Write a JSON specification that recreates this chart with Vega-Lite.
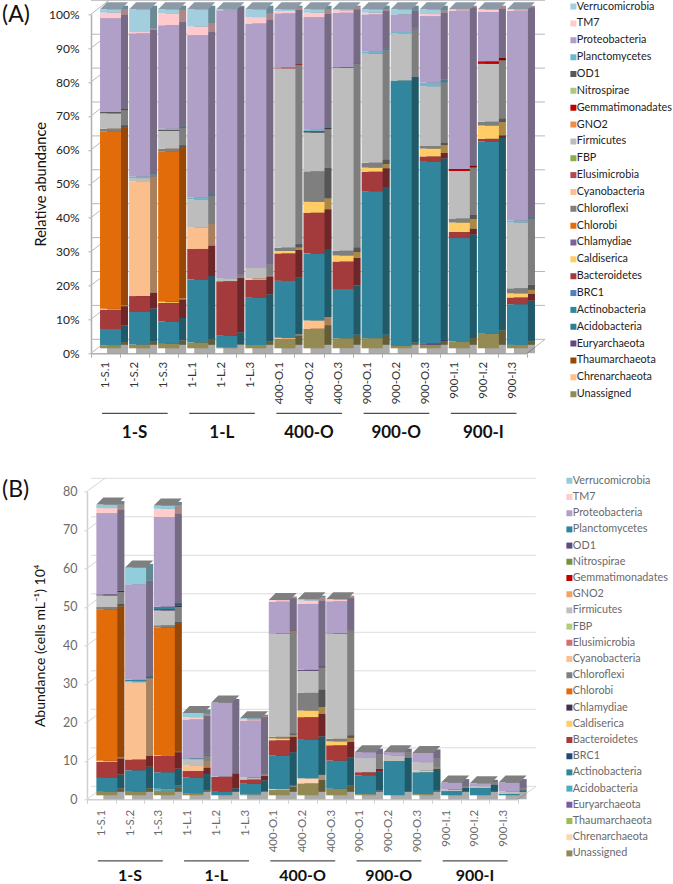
{
"$schema":"https://vega.github.io/schema/vega-lite/v6.json",
"padding":{"left":2,"top":-1.7,"right":6,"bottom":10},
"bounds":"flush",
"spacing":138,
"config":{"view":{"stroke":null},"font":"Lato","axis":{"labelFont":"Lato","titleFont":"Lato","titleFontWeight":"normal","labelOverlap":false,"labelBound":false,"labelSeparation":0},"legend":{"labelFont":"Lato"}},
"resolve":{"scale":{"color":"independent","x":"independent","y":"independent"},"legend":{"color":"independent"}},
"datasets":{
"groupsA":[{"group":"1-S","first":"1-S.1","mid":"1-S.2","last":"1-S.3"},{"group":"1-L","first":"1-L.1","mid":"1-L.2","last":"1-L.3"},{"group":"400-O","first":"400-O.1","mid":"400-O.2","last":"400-O.3"},{"group":"900-O","first":"900-O.1","mid":"900-O.2","last":"900-O.3"},{"group":"900-I","first":"900-I.1","mid":"900-I.2","last":"900-I.3"}],
"a":[
{"s":"1-S.1","t":"Unassigned","v":0.8,"r":1},{"s":"1-S.1","t":"Actinobacteria","v":4.9,"r":6},{"s":"1-S.1","t":"Bacteroidetes","v":5.7,"r":8},{"s":"1-S.1","t":"Caldiserica","v":0.3,"r":9},{"s":"1-S.1","t":"Chlorobi","v":52.3,"r":11},{"s":"1-S.1","t":"Chloroflexi","v":0.8,"r":12},{"s":"1-S.1","t":"Firmicutes","v":4.5,"r":16},{"s":"1-S.1","t":"OD1","v":0.4,"r":20},{"s":"1-S.1","t":"Proteobacteria","v":27.7,"r":22},{"s":"1-S.1","t":"TM7","v":1.6,"r":23},{"s":"1-S.1","t":"Verrucomicrobia","v":1,"r":24},
{"s":"1-S.2","t":"Unassigned","v":1.1,"r":1},{"s":"1-S.2","t":"Actinobacteria","v":9.6,"r":6},{"s":"1-S.2","t":"Bacteroidetes","v":4.7,"r":8},{"s":"1-S.2","t":"Cyanobacteria","v":33.9,"r":13},{"s":"1-S.2","t":"Firmicutes","v":0.9,"r":16},{"s":"1-S.2","t":"Planctomycetes","v":0.5,"r":21},{"s":"1-S.2","t":"Proteobacteria","v":42.2,"r":22},{"s":"1-S.2","t":"TM7","v":0.4,"r":23},{"s":"1-S.2","t":"Verrucomicrobia","v":6.7,"r":24},
{"s":"1-S.3","t":"Unassigned","v":1.3,"r":1},{"s":"1-S.3","t":"Actinobacteria","v":6.6,"r":6},{"s":"1-S.3","t":"Bacteroidetes","v":5.5,"r":8},{"s":"1-S.3","t":"Caldiserica","v":0.3,"r":9},{"s":"1-S.3","t":"Chlorobi","v":44.4,"r":11},{"s":"1-S.3","t":"Chloroflexi","v":0.8,"r":12},{"s":"1-S.3","t":"Firmicutes","v":5.2,"r":16},{"s":"1-S.3","t":"OD1","v":0.3,"r":20},{"s":"1-S.3","t":"Planctomycetes","v":0.4,"r":21},{"s":"1-S.3","t":"Proteobacteria","v":30.5,"r":22},{"s":"1-S.3","t":"TM7","v":3.5,"r":23},{"s":"1-S.3","t":"Verrucomicrobia","v":1.2,"r":24},
{"s":"1-L.1","t":"Unassigned","v":1.7,"r":1},{"s":"1-L.1","t":"Actinobacteria","v":18.6,"r":6},{"s":"1-L.1","t":"Bacteroidetes","v":9,"r":8},{"s":"1-L.1","t":"Cyanobacteria","v":6.3,"r":13},{"s":"1-L.1","t":"Firmicutes","v":8.3,"r":16},{"s":"1-L.1","t":"Planctomycetes","v":0.6,"r":21},{"s":"1-L.1","t":"Proteobacteria","v":47.9,"r":22},{"s":"1-L.1","t":"TM7","v":2.5,"r":23},{"s":"1-L.1","t":"Verrucomicrobia","v":5.1,"r":24},
{"s":"1-L.2","t":"Unassigned","v":0.2,"r":1},{"s":"1-L.2","t":"Actinobacteria","v":3.5,"r":6},{"s":"1-L.2","t":"Bacteroidetes","v":16.1,"r":8},{"s":"1-L.2","t":"Firmicutes","v":0.9,"r":16},{"s":"1-L.2","t":"Proteobacteria","v":79,"r":22},{"s":"1-L.2","t":"Verrucomicrobia","v":0.3,"r":24},
{"s":"1-L.3","t":"Unassigned","v":1,"r":1},{"s":"1-L.3","t":"Actinobacteria","v":13.9,"r":6},{"s":"1-L.3","t":"Bacteroidetes","v":5.3,"r":8},{"s":"1-L.3","t":"Cyanobacteria","v":0.4,"r":13},{"s":"1-L.3","t":"Firmicutes","v":3.1,"r":16},{"s":"1-L.3","t":"Proteobacteria","v":72.1,"r":22},{"s":"1-L.3","t":"TM7","v":1.9,"r":23},{"s":"1-L.3","t":"Verrucomicrobia","v":2.3,"r":24},
{"s":"400-O.1","t":"Unassigned","v":2.8,"r":1},{"s":"400-O.1","t":"Chrenarchaeota","v":0.3,"r":2},{"s":"400-O.1","t":"Actinobacteria","v":16.8,"r":6},{"s":"400-O.1","t":"Bacteroidetes","v":8.1,"r":8},{"s":"400-O.1","t":"Caldiserica","v":0.7,"r":9},{"s":"400-O.1","t":"Chloroflexi","v":1,"r":12},{"s":"400-O.1","t":"Firmicutes","v":52.9,"r":16},{"s":"400-O.1","t":"Gemmatimonadates","v":0.2,"r":18},{"s":"400-O.1","t":"Proteobacteria","v":16,"r":22},{"s":"400-O.1","t":"TM7","v":0.7,"r":23},{"s":"400-O.1","t":"Verrucomicrobia","v":0.5,"r":24},
{"s":"400-O.2","t":"Unassigned","v":5.8,"r":1},{"s":"400-O.2","t":"Chrenarchaeota","v":2.4,"r":2},{"s":"400-O.2","t":"Actinobacteria","v":19.8,"r":6},{"s":"400-O.2","t":"Bacteroidetes","v":12,"r":8},{"s":"400-O.2","t":"Caldiserica","v":3.2,"r":9},{"s":"400-O.2","t":"Chloroflexi","v":9,"r":12},{"s":"400-O.2","t":"Firmicutes","v":11.4,"r":16},{"s":"400-O.2","t":"OD1","v":0.5,"r":20},{"s":"400-O.2","t":"Planctomycetes","v":0.4,"r":21},{"s":"400-O.2","t":"Proteobacteria","v":33.2,"r":22},{"s":"400-O.2","t":"TM7","v":1.3,"r":23},{"s":"400-O.2","t":"Verrucomicrobia","v":1,"r":24},
{"s":"400-O.3","t":"Unassigned","v":3,"r":1},{"s":"400-O.3","t":"Actinobacteria","v":14.5,"r":6},{"s":"400-O.3","t":"Bacteroidetes","v":8.1,"r":8},{"s":"400-O.3","t":"Caldiserica","v":1.8,"r":9},{"s":"400-O.3","t":"Chloroflexi","v":1.4,"r":12},{"s":"400-O.3","t":"Firmicutes","v":54,"r":16},{"s":"400-O.3","t":"Gemmatimonadates","v":0.2,"r":18},{"s":"400-O.3","t":"Proteobacteria","v":16,"r":22},{"s":"400-O.3","t":"TM7","v":0.7,"r":23},{"s":"400-O.3","t":"Verrucomicrobia","v":0.3,"r":24},
{"s":"900-O.1","t":"Unassigned","v":3,"r":1},{"s":"900-O.1","t":"Actinobacteria","v":43.3,"r":6},{"s":"900-O.1","t":"Bacteroidetes","v":5.8,"r":8},{"s":"900-O.1","t":"Caldiserica","v":1.2,"r":9},{"s":"900-O.1","t":"Chloroflexi","v":1.4,"r":12},{"s":"900-O.1","t":"Firmicutes","v":32.2,"r":16},{"s":"900-O.1","t":"Planctomycetes","v":0.6,"r":21},{"s":"900-O.1","t":"Proteobacteria","v":11,"r":22},{"s":"900-O.1","t":"TM7","v":0.5,"r":23},{"s":"900-O.1","t":"Verrucomicrobia","v":1,"r":24},
{"s":"900-O.2","t":"Unassigned","v":0.7,"r":1},{"s":"900-O.2","t":"Actinobacteria","v":78.3,"r":6},{"s":"900-O.2","t":"Firmicutes","v":13.9,"r":16},{"s":"900-O.2","t":"Planctomycetes","v":0.4,"r":21},{"s":"900-O.2","t":"Proteobacteria","v":5.2,"r":22},{"s":"900-O.2","t":"Verrucomicrobia","v":1.5,"r":24},
{"s":"900-O.3","t":"Unassigned","v":1,"r":1},{"s":"900-O.3","t":"Euryarchaeota","v":0.5,"r":4},{"s":"900-O.3","t":"Actinobacteria","v":53.5,"r":6},{"s":"900-O.3","t":"Bacteroidetes","v":1.6,"r":8},{"s":"900-O.3","t":"Caldiserica","v":2.3,"r":9},{"s":"900-O.3","t":"Chloroflexi","v":0.8,"r":12},{"s":"900-O.3","t":"Firmicutes","v":17.6,"r":16},{"s":"900-O.3","t":"Planctomycetes","v":1,"r":21},{"s":"900-O.3","t":"Proteobacteria","v":19.7,"r":22},{"s":"900-O.3","t":"TM7","v":0.6,"r":23},{"s":"900-O.3","t":"Verrucomicrobia","v":1.4,"r":24},
{"s":"900-I.1","t":"Unassigned","v":2,"r":1},{"s":"900-I.1","t":"Actinobacteria","v":30.5,"r":6},{"s":"900-I.1","t":"Bacteroidetes","v":1.8,"r":8},{"s":"900-I.1","t":"Caldiserica","v":2.8,"r":9},{"s":"900-I.1","t":"Chloroflexi","v":1.2,"r":12},{"s":"900-I.1","t":"Firmicutes","v":14,"r":16},{"s":"900-I.1","t":"Gemmatimonadates","v":0.6,"r":18},{"s":"900-I.1","t":"Proteobacteria","v":46.7,"r":22},{"s":"900-I.1","t":"TM7","v":0.4,"r":23},
{"s":"900-I.2","t":"Unassigned","v":4.3,"r":1},{"s":"900-I.2","t":"Actinobacteria","v":56.7,"r":6},{"s":"900-I.2","t":"Bacteroidetes","v":0.8,"r":8},{"s":"900-I.2","t":"Caldiserica","v":3.9,"r":9},{"s":"900-I.2","t":"Chloroflexi","v":1.1,"r":12},{"s":"900-I.2","t":"Firmicutes","v":17.1,"r":16},{"s":"900-I.2","t":"Gemmatimonadates","v":0.8,"r":18},{"s":"900-I.2","t":"Proteobacteria","v":14.5,"r":22},{"s":"900-I.2","t":"TM7","v":0.8,"r":23},
{"s":"900-I.3","t":"Unassigned","v":1,"r":1},{"s":"900-I.3","t":"Actinobacteria","v":12,"r":6},{"s":"900-I.3","t":"Bacteroidetes","v":2,"r":8},{"s":"900-I.3","t":"Caldiserica","v":1.2,"r":9},{"s":"900-I.3","t":"Chloroflexi","v":1.5,"r":12},{"s":"900-I.3","t":"Firmicutes","v":19.4,"r":16},{"s":"900-I.3","t":"Planctomycetes","v":0.6,"r":21},{"s":"900-I.3","t":"Proteobacteria","v":61.9,"r":22},{"s":"900-I.3","t":"TM7","v":0.4,"r":23}
],
"b":[
{"s":"1-S.1","t":"Unassigned","v":0.9,"r":1},{"s":"1-S.1","t":"Actinobacteria","v":3.6,"r":6},{"s":"1-S.1","t":"Bacteroidetes","v":4.2,"r":8},{"s":"1-S.1","t":"Caldiserica","v":0.3,"r":9},{"s":"1-S.1","t":"Chlorobi","v":39.2,"r":11},{"s":"1-S.1","t":"Chloroflexi","v":0.7,"r":12},{"s":"1-S.1","t":"Firmicutes","v":3,"r":16},{"s":"1-S.1","t":"OD1","v":0.3,"r":20},{"s":"1-S.1","t":"Proteobacteria","v":21.1,"r":22},{"s":"1-S.1","t":"TM7","v":1.3,"r":23},{"s":"1-S.1","t":"Verrucomicrobia","v":0.9,"r":24},
{"s":"1-S.2","t":"Unassigned","v":0.9,"r":1},{"s":"1-S.2","t":"Actinobacteria","v":5.6,"r":6},{"s":"1-S.2","t":"Bacteroidetes","v":2.8,"r":8},{"s":"1-S.2","t":"Cyanobacteria","v":19.9,"r":13},{"s":"1-S.2","t":"Firmicutes","v":0.4,"r":16},{"s":"1-S.2","t":"Planctomycetes","v":0.4,"r":21},{"s":"1-S.2","t":"Proteobacteria","v":24.8,"r":22},{"s":"1-S.2","t":"Verrucomicrobia","v":4.4,"r":24},
{"s":"1-S.3","t":"Unassigned","v":1.2,"r":1},{"s":"1-S.3","t":"Acidobacteria","v":0.5,"r":5},{"s":"1-S.3","t":"Actinobacteria","v":4.3,"r":6},{"s":"1-S.3","t":"Bacteroidetes","v":4.3,"r":8},{"s":"1-S.3","t":"Caldiserica","v":0.1,"r":9},{"s":"1-S.3","t":"Chlorobi","v":33.2,"r":11},{"s":"1-S.3","t":"Chloroflexi","v":0.6,"r":12},{"s":"1-S.3","t":"Firmicutes","v":3.8,"r":16},{"s":"1-S.3","t":"OD1","v":0.4,"r":20},{"s":"1-S.3","t":"Planctomycetes","v":0.6,"r":21},{"s":"1-S.3","t":"Proteobacteria","v":23.3,"r":22},{"s":"1-S.3","t":"TM7","v":2.1,"r":23},{"s":"1-S.3","t":"Verrucomicrobia","v":0.9,"r":24},
{"s":"1-L.1","t":"Unassigned","v":0.4,"r":1},{"s":"1-L.1","t":"Actinobacteria","v":4.2,"r":6},{"s":"1-L.1","t":"Bacteroidetes","v":1.7,"r":8},{"s":"1-L.1","t":"Cyanobacteria","v":1.5,"r":13},{"s":"1-L.1","t":"Firmicutes","v":1.6,"r":16},{"s":"1-L.1","t":"Planctomycetes","v":0.2,"r":21},{"s":"1-L.1","t":"Proteobacteria","v":10.1,"r":22},{"s":"1-L.1","t":"TM7","v":0.6,"r":23},{"s":"1-L.1","t":"Verrucomicrobia","v":1.1,"r":24},
{"s":"1-L.2","t":"Actinobacteria","v":0.9,"r":6},{"s":"1-L.2","t":"Bacteroidetes","v":3.9,"r":8},{"s":"1-L.2","t":"Firmicutes","v":0.1,"r":16},{"s":"1-L.2","t":"Proteobacteria","v":19.2,"r":22},
{"s":"1-L.3","t":"Unassigned","v":0.2,"r":1},{"s":"1-L.3","t":"Actinobacteria","v":2.8,"r":6},{"s":"1-L.3","t":"Bacteroidetes","v":1.1,"r":8},{"s":"1-L.3","t":"Cyanobacteria","v":0.1,"r":13},{"s":"1-L.3","t":"Firmicutes","v":0.4,"r":16},{"s":"1-L.3","t":"Proteobacteria","v":14.8,"r":22},{"s":"1-L.3","t":"TM7","v":0.3,"r":23},{"s":"1-L.3","t":"Verrucomicrobia","v":0.3,"r":24},
{"s":"400-O.1","t":"Unassigned","v":1.4,"r":1},{"s":"400-O.1","t":"Chrenarchaeota","v":0.2,"r":2},{"s":"400-O.1","t":"Actinobacteria","v":8.7,"r":6},{"s":"400-O.1","t":"Bacteroidetes","v":4,"r":8},{"s":"400-O.1","t":"Caldiserica","v":0.5,"r":9},{"s":"400-O.1","t":"Chloroflexi","v":0.4,"r":12},{"s":"400-O.1","t":"Firmicutes","v":26.7,"r":16},{"s":"400-O.1","t":"Gemmatimonadates","v":0.1,"r":18},{"s":"400-O.1","t":"Proteobacteria","v":8.3,"r":22},{"s":"400-O.1","t":"TM7","v":0.4,"r":23},
{"s":"400-O.2","t":"Unassigned","v":3.1,"r":1},{"s":"400-O.2","t":"Chrenarchaeota","v":1.3,"r":2},{"s":"400-O.2","t":"Actinobacteria","v":10,"r":6},{"s":"400-O.2","t":"Bacteroidetes","v":5.9,"r":8},{"s":"400-O.2","t":"Caldiserica","v":1.7,"r":9},{"s":"400-O.2","t":"Chloroflexi","v":4.6,"r":12},{"s":"400-O.2","t":"Firmicutes","v":5.7,"r":16},{"s":"400-O.2","t":"OD1","v":0.3,"r":20},{"s":"400-O.2","t":"Proteobacteria","v":17.1,"r":22},{"s":"400-O.2","t":"TM7","v":0.9,"r":23},{"s":"400-O.2","t":"Verrucomicrobia","v":0.3,"r":24},
{"s":"400-O.3","t":"Unassigned","v":1.7,"r":1},{"s":"400-O.3","t":"Actinobacteria","v":7.3,"r":6},{"s":"400-O.3","t":"Bacteroidetes","v":4,"r":8},{"s":"400-O.3","t":"Caldiserica","v":1,"r":9},{"s":"400-O.3","t":"Chloroflexi","v":0.7,"r":12},{"s":"400-O.3","t":"Firmicutes","v":27.3,"r":16},{"s":"400-O.3","t":"Gemmatimonadates","v":0.1,"r":18},{"s":"400-O.3","t":"Proteobacteria","v":8.3,"r":22},{"s":"400-O.3","t":"TM7","v":0.5,"r":23},
{"s":"900-O.1","t":"Unassigned","v":0.3,"r":1},{"s":"900-O.1","t":"Actinobacteria","v":4.9,"r":6},{"s":"900-O.1","t":"Bacteroidetes","v":0.8,"r":8},{"s":"900-O.1","t":"Firmicutes","v":3.7,"r":16},{"s":"900-O.1","t":"Proteobacteria","v":1.5,"r":22},
{"s":"900-O.2","t":"Actinobacteria","v":8.9,"r":6},{"s":"900-O.2","t":"Firmicutes","v":1.4,"r":16},{"s":"900-O.2","t":"Proteobacteria","v":0.9,"r":22},
{"s":"900-O.3","t":"Unassigned","v":0.3,"r":1},{"s":"900-O.3","t":"Actinobacteria","v":5.7,"r":6},{"s":"900-O.3","t":"Cyanobacteria","v":0.4,"r":13},{"s":"900-O.3","t":"Firmicutes","v":2.2,"r":16},{"s":"900-O.3","t":"Proteobacteria","v":2.4,"r":22},
{"s":"900-I.1","t":"Actinobacteria","v":1.1,"r":6},{"s":"900-I.1","t":"Firmicutes","v":0.4,"r":16},{"s":"900-I.1","t":"Proteobacteria","v":1.8,"r":22},
{"s":"900-I.2","t":"Actinobacteria","v":1.9,"r":6},{"s":"900-I.2","t":"Firmicutes","v":0.5,"r":16},{"s":"900-I.2","t":"Proteobacteria","v":0.7,"r":22},
{"s":"900-I.3","t":"Actinobacteria","v":0.4,"r":6},{"s":"900-I.3","t":"Firmicutes","v":0.6,"r":16},{"s":"900-I.3","t":"Proteobacteria","v":2.3,"r":22}
],
"ticksA":[{"tick":0},{"tick":10},{"tick":20},{"tick":30},{"tick":40},{"tick":50},{"tick":60},{"tick":70},{"tick":80},{"tick":90},{"tick":100}],
"ticksB":[{"tick":0},{"tick":10},{"tick":20},{"tick":30},{"tick":40},{"tick":50},{"tick":60},{"tick":70},{"tick":80}]
},
"vconcat":[
{"width":436,"height":339,
"title":{"text":"(A)","anchor":"start","frame":"group","dx":-89,"dy":33,"fontSize":23,"font":"Lato","fontWeight":"normal","color":"#111"},
"layer":[
{"data":{"name":"ticksA"},"mark":{"type":"rule","color":"#b8b8b8","strokeWidth":1,"xOffset":18,"x2Offset":18,"yOffset":-14},"encoding":{"y":{"field":"tick","type":"quantitative","title":"Relative abundance","scale":{"domain":[0,100],"nice":false},"axis":{"values":[0,10,20,30,40,50,60,70,80,90,100],"tickCount":11,"labelOverlap":false,"labelExpr":"datum.value + '%'","labelFontSize":12,"labelColor":"#222","labelPadding":9,"tickSize":3,"tickColor":"#b0b0b0","domainColor":"#b0b0b0","domainWidth":1.5,"grid":false,"titleFontSize":14.6,"titleColor":"#111","titleX":-43}}}},
{"data":{"name":"ticksA"},"mark":{"type":"point","shape":"M0,0L18,-14","size":4,"filled":false,"stroke":"#b8b8b8","strokeWidth":1,"opacity":1,"xOffset":-14.6},"encoding":{"x":{"datum":"1-S.1","type":"nominal"},"y":{"field":"tick","type":"quantitative"}}},
{"data":{"values":[{"tick":0}]},"mark":{"type":"point","shape":"M0,0L18,-14","size":4,"filled":false,"stroke":"#b8b8b8","strokeWidth":1,"opacity":1,"xOffset":14.6},"encoding":{"x":{"datum":"900-I.3","type":"nominal"},"y":{"field":"tick","type":"quantitative"}}},
{"data":{"name":"a"},"mark":{"type":"bar","width":21,"xOffset":12,"yOffset":-8.5,"y2Offset":-8.5},"encoding":{"x":{"field":"s","type":"nominal"},"y":{"field":"v","type":"quantitative","stack":"zero"},"order":{"field":"r","type":"quantitative"},"color":{"field":"t","type":"nominal"}}},
{"data":{"name":"a"},"transform":[{"aggregate":[{"op":"sum","field":"v","as":"total"}],"groupby":["s"]}],"mark":{"type":"bar","width":21,"xOffset":12,"yOffset":-8.5,"y2Offset":-8.5,"color":"#000","opacity":0.33},"encoding":{"x":{"field":"s","type":"nominal"},"y":{"field":"total","type":"quantitative","stack":null}}},
{"data":{"name":"a"},"mark":{"type":"bar","width":21,"xOffset":5,"yOffset":-5,"y2Offset":-5},"encoding":{
"x":{"field":"s","type":"nominal","sort":null,"title":null,"scale":{"type":"band","paddingInner":0,"paddingOuter":0,"domain":["1-S.1","1-S.2","1-S.3","1-L.1","1-L.2","1-L.3","400-O.1","400-O.2","400-O.3","900-O.1","900-O.2","900-O.3","900-I.1","900-I.2","900-I.3"]},"axis":{"labelAngle":-90,"labelAlign":"right","labelBaseline":"middle","labelFontSize":11.5,"labelColor":"#333","labelPadding":4,"labelOverlap":false,"tickBand":"extent","tickSize":4,"tickColor":"#b0b0b0","domainColor":"#b0b0b0","domainWidth":1.5}},
"y":{"field":"v","type":"quantitative","stack":"zero"},
"order":{"field":"r","type":"quantitative"},
"color":{"field":"t","type":"nominal","scale":{"domain":["Verrucomicrobia","TM7","Proteobacteria","Planctomycetes","OD1","Nitrospirae","Gemmatimonadates","GNO2","Firmicutes","FBP","Elusimicrobia","Cyanobacteria","Chloroflexi","Chlorobi","Chlamydiae","Caldiserica","Bacteroidetes","BRC1","Actinobacteria","Acidobacteria","Euryarchaeota","Thaumarchaeota","Chrenarchaeota","Unassigned"],"range":["#A2CEDD","#FFC9CE","#B09FC6","#6FB7CC","#595959","#AFC97A","#C00000","#EE8F45","#BDBDBD","#8CAE48","#B24B4B","#FBBF8D","#7F7F7F","#E36C0A","#7F5FA0","#FFCC66","#A33B3D","#4F81BD","#31859C","#2E7D95","#604A7B","#974806","#FFC08A","#948A54"]},
"legend":{"title":null,"orient":"none","legendX":477,"legendY":-15.7,"symbolType":"square","symbolSize":36,"symbolStrokeWidth":0,"labelFontSize":10.8,"labelColor":"#222","labelOffset":-2,"rowPadding":0.85,"clipHeight":16,"labelLimit":120,"values":["Verrucomicrobia","TM7","Proteobacteria","Planctomycetes","OD1","Nitrospirae","Gemmatimonadates","GNO2","Firmicutes","FBP","Elusimicrobia","Cyanobacteria","Chloroflexi","Chlorobi","Chlamydiae","Caldiserica","Bacteroidetes","BRC1","Actinobacteria","Acidobacteria","Euryarchaeota","Thaumarchaeota","Chrenarchaeota","Unassigned"]}}
}},
{"data":{"name":"a"},"transform":[{"aggregate":[{"op":"sum","field":"v","as":"total"}],"groupby":["s"]}],"mark":{"type":"point","shape":"M-10.5,0L10.5,0L17.5,-7L-3.5,-7Z","size":4,"filled":true,"fill":"#8c9aa8","opacity":1,"xOffset":5,"yOffset":-5},"encoding":{"x":{"field":"s","type":"nominal"},"y":{"field":"total","type":"quantitative"}}},
{"data":{"name":"groupsA"},"mark":{"type":"rule","color":"#222","strokeWidth":1,"xOffset":-3.5,"x2Offset":4},"encoding":{"x":{"field":"first","type":"nominal"},"x2":{"field":"last"},"y":{"datum":-17.7}}},
{"data":{"name":"groupsA"},"mark":{"type":"text","font":"Lato","fontSize":17,"fontWeight":"bold","color":"#111"},"encoding":{"x":{"field":"mid","type":"nominal"},"y":{"datum":-23.6},"text":{"field":"group"}}}
]},
{"width":431,"height":308,
"title":{"text":"(B)","anchor":"start","frame":"group","dx":-89,"dy":33,"fontSize":23,"font":"Lato","fontWeight":"normal","color":"#111"},
"layer":[
{"data":{"name":"ticksB"},"mark":{"type":"rule","color":"#dcdcdc","strokeWidth":1,"xOffset":14,"x2Offset":14,"yOffset":-13},"encoding":{"y":{"field":"tick","type":"quantitative","title":"Abundance (cells mL⁻¹) 10⁴","scale":{"domain":[0,80],"nice":false},"axis":{"offset":4,"values":[0,10,20,30,40,50,60,70,80],"tickCount":9,"labelOverlap":false,"labelFontSize":12.5,"labelColor":"#6a6a6a","labelPadding":7,"tickSize":3,"tickColor":"#d0d0d0","domainColor":"#d0d0d0","domainWidth":1.5,"grid":false,"titleFontSize":14,"titleColor":"#111","titleX":-40}}}},
{"data":{"name":"ticksB"},"mark":{"type":"point","shape":"M0,0L18,-13","size":4,"filled":false,"stroke":"#d5d5d5","strokeWidth":1,"opacity":1,"xOffset":-14.4},"encoding":{"x":{"datum":"1-S.1","type":"nominal"},"y":{"field":"tick","type":"quantitative"}}},
{"data":{"values":[{"tick":0}]},"mark":{"type":"point","shape":"M0,0L18,-13","size":4,"filled":false,"stroke":"#d5d5d5","strokeWidth":1,"opacity":1,"xOffset":14.4},"encoding":{"x":{"datum":"900-I.3","type":"nominal"},"y":{"field":"tick","type":"quantitative"}}},
{"data":{"name":"b"},"mark":{"type":"bar","width":21,"xOffset":12.5,"yOffset":-7.5,"y2Offset":-7.5},"encoding":{"x":{"field":"s","type":"nominal"},"y":{"field":"v","type":"quantitative","stack":"zero"},"order":{"field":"r","type":"quantitative"},"color":{"field":"t","type":"nominal"}}},
{"data":{"name":"b"},"transform":[{"aggregate":[{"op":"sum","field":"v","as":"total"}],"groupby":["s"]}],"mark":{"type":"bar","width":21,"xOffset":12.5,"yOffset":-7.5,"y2Offset":-7.5,"color":"#000","opacity":0.33},"encoding":{"x":{"field":"s","type":"nominal"},"y":{"field":"total","type":"quantitative","stack":null}}},
{"data":{"name":"b"},"mark":{"type":"bar","width":21,"xOffset":5.5,"yOffset":-4,"y2Offset":-4},"encoding":{
"x":{"field":"s","type":"nominal","sort":null,"title":null,"scale":{"type":"band","range":[-4,427],"paddingInner":0,"paddingOuter":0,"domain":["1-S.1","1-S.2","1-S.3","1-L.1","1-L.2","1-L.3","400-O.1","400-O.2","400-O.3","900-O.1","900-O.2","900-O.3","900-I.1","900-I.2","900-I.3"]},"axis":{"labelAngle":-90,"labelAlign":"right","labelBaseline":"middle","labelFontSize":11.5,"labelColor":"#6a6a6a","labelPadding":6,"labelOverlap":false,"tickBand":"extent","tickSize":4,"tickColor":"#d0d0d0","domainColor":"#d0d0d0","domainWidth":1.5}},
"y":{"field":"v","type":"quantitative","stack":"zero"},
"order":{"field":"r","type":"quantitative"},
"color":{"field":"t","type":"nominal","scale":{"domain":["Verrucomicrobia","TM7","Proteobacteria","Planctomycetes","OD1","Nitrospirae","Gemmatimonadates","GNO2","Firmicutes","FBP","Elusimicrobia","Cyanobacteria","Chloroflexi","Chlorobi","Chlamydiae","Caldiserica","Bacteroidetes","BRC1","Actinobacteria","Acidobacteria","Euryarchaeota","Thaumarchaeota","Chrenarchaeota","Unassigned"],"range":["#92CDDC","#FFCCCC","#B1A0C7","#31859C","#604A7B","#76933C","#C00000","#F4A460","#BFBFBF","#B1CF7A","#D07070","#FAC090","#7F7F7F","#E26B0A","#403151","#FFCC66","#A83A3A","#1F497D","#31859C","#4BACC6","#7B5DA5","#9BBB59","#FCD5B4","#938953"]},
"legend":{"title":null,"orient":"none","legendX":473,"legendY":-18,"symbolType":"square","symbolSize":36,"symbolStrokeWidth":0,"labelFontSize":10.8,"labelColor":"#6a6a6a","labelOffset":-2,"rowPadding":1.2,"clipHeight":15,"labelLimit":120,"values":["Verrucomicrobia","TM7","Proteobacteria","Planctomycetes","OD1","Nitrospirae","Gemmatimonadates","GNO2","Firmicutes","FBP","Elusimicrobia","Cyanobacteria","Chloroflexi","Chlorobi","Chlamydiae","Caldiserica","Bacteroidetes","BRC1","Actinobacteria","Acidobacteria","Euryarchaeota","Thaumarchaeota","Chrenarchaeota","Unassigned"]}}
}},
{"data":{"name":"b"},"transform":[{"aggregate":[{"op":"sum","field":"v","as":"total"}],"groupby":["s"]}],"mark":{"type":"point","shape":"M-10.5,0L10.5,0L17.5,-7L-3.5,-7Z","size":4,"filled":true,"fill":"#7f7f7f","opacity":1,"xOffset":5.5,"yOffset":-4},"encoding":{"x":{"field":"s","type":"nominal"},"y":{"field":"total","type":"quantitative"}}},
{"data":{"name":"groupsA"},"mark":{"type":"rule","color":"#222","strokeWidth":1,"xOffset":-3.5,"x2Offset":4},"encoding":{"x":{"field":"first","type":"nominal"},"x2":{"field":"last"},"y":{"datum":-16}}},
{"data":{"name":"groupsA"},"mark":{"type":"text","font":"Lato","fontSize":16,"fontWeight":"bold","color":"#111"},"encoding":{"x":{"field":"mid","type":"nominal"},"y":{"datum":-19.9},"text":{"field":"group"}}}
]}
]
}
